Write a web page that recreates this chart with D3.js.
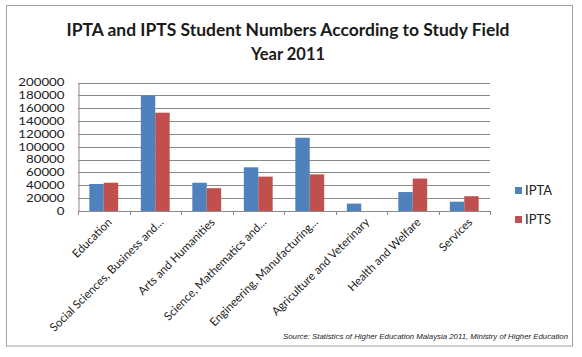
<!DOCTYPE html>
<html lang="en">
<head>
  <meta charset="UTF-8">
  <title>IPTA and IPTS Student Numbers</title>
  <script src="https://d3js.org/d3.v7.min.js"></script>
  <style>
    body {
      margin: 0;
      background-color: #ffffff;
      font-family: Lato, "Open Sans", sans-serif;
    }
    svg { display: block; }
  </style>
</head>
<body>
  <svg id="chart"></svg>
  <script>
    // Data
    const categories = [
      "Education",
      "Social Sciences, Business and...",
      "Arts and Humanities",
      "Science, Mathematics and...",
      "Engineering, Manufacturing...",
      "Agriculture and Veterinary",
      "Health and Welfare",
      "Services"
    ];
    const seriesNames = ["IPTA", "IPTS"];
    const ipta = [42000, 180000, 44000, 68000, 114000, 11500, 29500, 14500];
    const ipts = [44000, 153000, 35500, 53500, 57000, 0, 50500, 23000];
    const yTicks = [0, 20000, 40000, 60000, 80000, 100000, 120000, 140000, 160000, 180000, 200000];
    const titleLines = ["IPTA and IPTS Student Numbers According to Study Field", "Year 2011"];
    const sourceText = "Source: Statistics of Higher Education Malaysia 2011, Ministry of Higher Education";
    const colors = ["#4f81bd", "#c0504d"];

    const W = 582, H = 357;
    const plot = { left: 78, right: 490, top: 82.5, bottom: 211 };

    const svg = d3.select("#chart").attr("width", W).attr("height", H);

    // outer frame
    svg.append("rect")
      .attr("x", 6.5).attr("y", 5.5)
      .attr("width", 566).attr("height", 340.5)
      .attr("fill", "#fff")
      .attr("stroke", "#a0a0a0")
      .attr("stroke-width", 1);

    // title
    const title = svg.append("g").attr("font-weight", "bold").attr("fill", "#1a1a1a");
    title.append("text")
      .attr("x", 288).attr("y", 36)
      .attr("text-anchor", "middle")
      .attr("font-size", 16.5)
      .attr("textLength", 443).attr("lengthAdjust", "spacingAndGlyphs")
      .text(titleLines[0]);
    title.append("text")
      .attr("x", 288).attr("y", 59.5)
      .attr("text-anchor", "middle")
      .attr("font-size", 16.5)
      .text(titleLines[1]);

    // scales
    const x0 = d3.scaleBand()
      .domain(categories)
      .range([plot.left, plot.right])
      .paddingInner(0.44)
      .paddingOuter(0.22);

    const x1 = d3.scaleBand()
      .domain(seriesNames)
      .range([0, x0.bandwidth()]);

    const y = d3.scaleLinear()
      .domain([0, 200000])
      .range([plot.bottom, plot.top]);

    // gridlines
    svg.append("g")
      .selectAll("line")
      .data(yTicks.slice(1))
      .join("line")
      .attr("x1", plot.left).attr("x2", plot.right)
      .attr("y1", d => Math.round(y(d)) + 0.5)
      .attr("y2", d => Math.round(y(d)) + 0.5)
      .attr("stroke", "#8a8a8a")
      .attr("stroke-width", 1);

    // y axis
    const yAxis = svg.append("g")
      .attr("transform", `translate(${plot.left + 0.5},0)`)
      .call(d3.axisLeft(y).tickValues(yTicks).tickFormat(d3.format("d")).tickSize(0).tickPadding(14));
    yAxis.select(".domain").attr("stroke", "#8a8a8a");
    yAxis.selectAll("text")
      .attr("font-family", "Lato, sans-serif")
      .attr("font-size", 10.5)
      .attr("textLength", d => String(d).length * 7.7)
      .attr("lengthAdjust", "spacingAndGlyphs")
      .attr("fill", "#222");

    // bars
    const data = categories.map((c, i) => ({ cat: c, values: [ipta[i], ipts[i]] }));
    svg.append("g")
      .selectAll("g")
      .data(data)
      .join("g")
      .attr("transform", d => `translate(${x0(d.cat)},0)`)
      .selectAll("rect")
      .data(d => d.values.map((v, j) => ({ key: seriesNames[j], v, j })))
      .join("rect")
      .attr("x", d => x1(d.key))
      .attr("width", x1.bandwidth())
      .attr("y", d => y(d.v))
      .attr("height", d => y(0) - y(d.v))
      .attr("fill", d => colors[d.j]);

    // x axis line with ticks between categories
    const step = x0.step();
    const xAxis = svg.append("g");
    xAxis.append("line")
      .attr("x1", plot.left).attr("x2", plot.right)
      .attr("y1", Math.round(y(0)) + 0.5).attr("y2", Math.round(y(0)) + 0.5)
      .attr("stroke", "#8a8a8a");
    xAxis.selectAll("line.tick")
      .data(d3.range(categories.length + 1))
      .join("line")
      .attr("class", "tick")
      .attr("x1", i => Math.round(plot.left + i * step) + 0.5)
      .attr("x2", i => Math.round(plot.left + i * step) + 0.5)
      .attr("y1", y(0)).attr("y2", y(0) + 4)
      .attr("stroke", "#8a8a8a");

    // rotated category labels
    xAxis.selectAll("text")
      .data(categories)
      .join("text")
      .attr("transform", d => `translate(${x0(d) + x0.bandwidth() / 2 + 6},${plot.bottom + 9}) rotate(-45)`)
      .attr("text-anchor", "end")
      .attr("dy", "0.35em")
      .attr("font-size", 11.5)
      .attr("fill", "#222")
      .text(d => d);

    // legend
    const legend = svg.append("g")
      .selectAll("g")
      .data(seriesNames)
      .join("g")
      .attr("transform", (d, i) => `translate(515,${187 + i * 29})`);
    legend.append("rect")
      .attr("width", 7).attr("height", 7)
      .attr("fill", (d, i) => colors[i]);
    legend.append("text")
      .attr("x", 10).attr("y", 8)
      .attr("font-size", 13)
      .attr("fill", "#222")
      .text(d => d);

    // source note
    svg.append("text")
      .attr("x", 568).attr("y", 339)
      .attr("text-anchor", "end")
      .attr("font-family", "Liberation Sans, Arial, sans-serif")
      .attr("font-style", "italic")
      .attr("font-size", 8)
      .attr("textLength", 285).attr("lengthAdjust", "spacingAndGlyphs")
      .attr("fill", "#222")
      .text(sourceText);
  </script>
</body>
</html>
